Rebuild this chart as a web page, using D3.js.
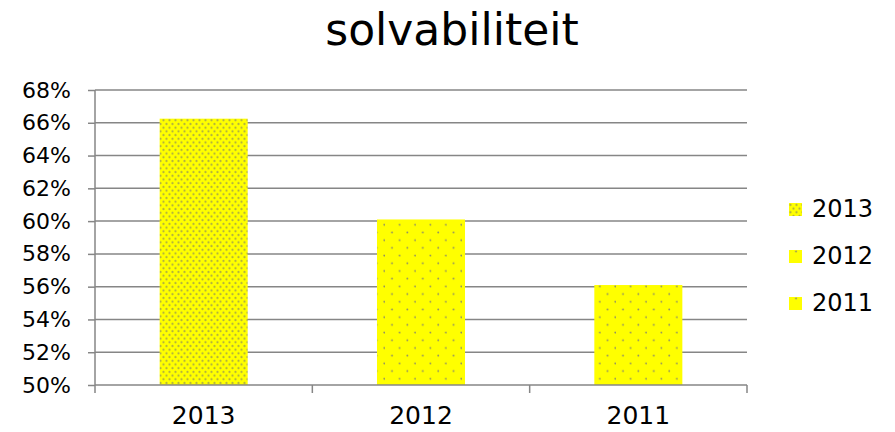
<!DOCTYPE html>
<html>
<head>
<meta charset="utf-8">
<script src="https://cdn.jsdelivr.net/npm/d3@7"></script>
<style>
  body { margin: 0; background: #fff; }
  text { font-family: "DejaVu Sans", Verdana, sans-serif; fill: #000; }
</style>
</head>
<body>
<script>
// solvabiliteit per jaar
var categories = ['2013', '2012', '2011'];
var values = [66.25, 60.1, 56.1];
var yTicks = [50, 52, 54, 56, 58, 60, 62, 64, 66, 68];

var width = 895, height = 432;
var margin = {top: 90, left: 95, right: 148, bottom: 47};

var svg = d3.select('body').append('svg')
  .attr('width', width)
  .attr('height', height);

var defs = svg.append('defs');

// dense dots for 2013
var p1 = defs.append('pattern')
  .attr('id', 'dense')
  .attr('patternUnits', 'userSpaceOnUse')
  .attr('width', 6)
  .attr('height', 7.4);
p1.append('rect').attr('width', 6).attr('height', 7.4).attr('fill', '#ffff00');
p1.append('circle').attr('cx', 1.5).attr('cy', 1.8).attr('r', 1.1).attr('fill', '#b4b43c');
p1.append('circle').attr('cx', 4.5).attr('cy', 5.5).attr('r', 1.1).attr('fill', '#b4b43c');

// sparse dots for 2012 / 2011
var p2 = defs.append('pattern')
  .attr('id', 'sparse')
  .attr('patternUnits', 'userSpaceOnUse')
  .attr('width', 15.4)
  .attr('height', 15.4);
p2.append('rect').attr('width', 15.4).attr('height', 15.4).attr('fill', '#ffff00');
p2.append('circle').attr('cx', 7).attr('cy', 1.5).attr('r', 0.9).attr('fill', '#8a8a6a');
p2.append('circle').attr('cx', 14.7).attr('cy', 9.2).attr('r', 0.9).attr('fill', '#8a8a6a');

var fills = ['url(#dense)', 'url(#sparse)', 'url(#sparse)'];

var x = d3.scaleBand()
  .domain(categories)
  .range([margin.left, width - margin.right])
  .paddingInner(0.595)
  .paddingOuter(0.2975);

var y = d3.scaleLinear()
  .domain([50, 68])
  .range([height - margin.bottom, margin.top]);

// title
svg.append('text')
  .attr('x', 452)
  .attr('y', 45)
  .attr('text-anchor', 'middle')
  .style('font-size', '44px')
  .text('solvabiliteit');

// gridlines
svg.append('g').selectAll('line')
  .data(yTicks.slice(1))
  .enter().append('line')
  .attr('x1', margin.left)
  .attr('x2', width - margin.right)
  .attr('y1', function(d) { return y(d); })
  .attr('y2', function(d) { return y(d); })
  .attr('stroke', '#868686')
  .attr('stroke-width', 1.5);

// bars
svg.append('g').selectAll('rect')
  .data(values)
  .enter().append('rect')
  .attr('x', function(d, i) { return x(categories[i]); })
  .attr('y', function(d) { return y(d); })
  .attr('width', x.bandwidth())
  .attr('height', function(d) { return y(50) - y(d); })
  .attr('fill', function(d, i) { return fills[i]; });

// y axis
var yAxis = svg.append('g')
  .attr('transform', 'translate(' + margin.left + ',0)')
  .call(d3.axisLeft(y).tickValues(yTicks).tickSize(7).tickPadding(17)
    .tickFormat(function(d) { return d + '%'; }));
yAxis.selectAll('line, path').attr('stroke', '#868686').attr('stroke-width', 1.5);
yAxis.select('.domain').attr('d', 'M0,' + y(68) + 'V' + y(50));
yAxis.selectAll('text').style('font-size', '22px').attr('font-family', null);

// x axis
var xAxis = svg.append('g')
  .attr('transform', 'translate(0,' + y(50) + ')')
  .call(d3.axisBottom(x).tickSize(0).tickPadding(21));
xAxis.select('.domain').attr('d', 'M' + margin.left + ',0H' + (width - margin.right))
  .attr('stroke', '#868686').attr('stroke-width', 1.5);
xAxis.selectAll('text').style('font-size', '25px').attr('font-family', null);

// category separators
var seps = d3.range(categories.length + 1).map(function(i) { return margin.left + i * (width - margin.left - margin.right) / categories.length; });
xAxis.selectAll('.sep')
  .data(seps)
  .enter().append('line')
  .attr('class', 'sep')
  .attr('x1', function(d) { return d; })
  .attr('x2', function(d) { return d; })
  .attr('y1', 0)
  .attr('y2', 8)
  .attr('stroke', '#868686')
  .attr('stroke-width', 1.5);

// legend
var legend = svg.append('g').selectAll('g')
  .data(categories)
  .enter().append('g')
  .attr('transform', function(d, i) { return 'translate(789,' + (203 + i * 47) + ')'; });
legend.append('rect')
  .attr('width', 13)
  .attr('height', 13)
  .attr('fill', function(d, i) { return fills[i]; });
legend.append('text')
  .attr('x', 23)
  .attr('y', 14)
  .style('font-size', '24px')
  .text(function(d) { return d; });
</script>
</body>
</html>
